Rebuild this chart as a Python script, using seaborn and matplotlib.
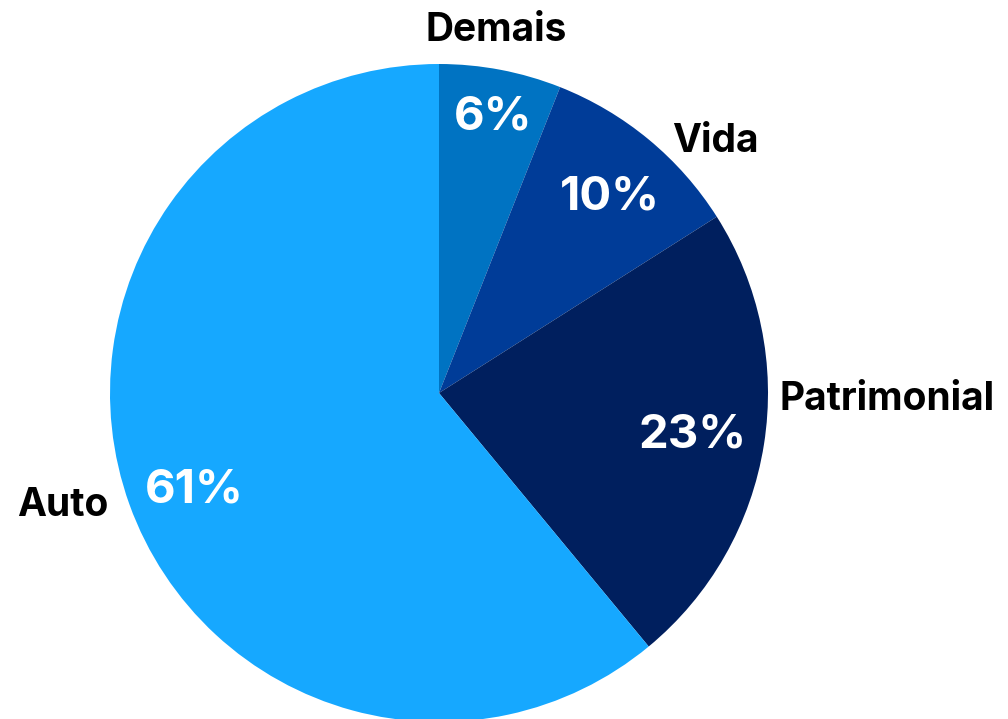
import matplotlib
matplotlib.use("Agg")
import matplotlib.pyplot as plt
import seaborn as sns
import numpy as np

sns.set_theme(style="white")
plt.rcParams['font.family'] = ['Inter', 'DejaVu Sans']

# dados
categorias = ['Demais', 'Vida', 'Patrimonial', 'Auto']
valores = [6, 10, 23, 61]
cores = ['#0073C2', '#003C98', '#001F5E', '#16A8FF']

# posições manuais dos rótulos (coordenadas do eixo, raio = 1)
pos_nome = [(0.173, 1.103, 'center'), (0.84, 0.764, 'center'),
            (1.035, -0.02, 'left'), (-1.145, -0.342, 'center')]
pos_pct = [(0.164, 0.836), (0.518, 0.594), (0.77, -0.13), (-0.745, -0.297)]

fig = plt.figure(figsize=(10.08, 7.19), dpi=100)
ax = fig.add_axes([110 / 1008, (719 - 393 - 329) / 719, 658 / 1008, 658 / 719])

ax.pie(valores, colors=cores, startangle=90, counterclock=False, radius=1,
       wedgeprops=dict(linewidth=0))
ax.set_xlim(-1, 1)
ax.set_ylim(-1, 1)
ax.set_aspect('equal')
ax.axis('off')

for nome, v, (x, y, ha), (px, py) in zip(categorias, valores, pos_nome, pos_pct):
    ax.text(x, y, nome, ha=ha, va='center', fontsize=28, fontweight='bold',
            color='black', clip_on=False)
    ax.text(px, py, f'{v}%', ha='center', va='center', fontsize=34,
            fontweight='bold', color='white')

plt.savefig('out.png', dpi=100)
plt.close()
